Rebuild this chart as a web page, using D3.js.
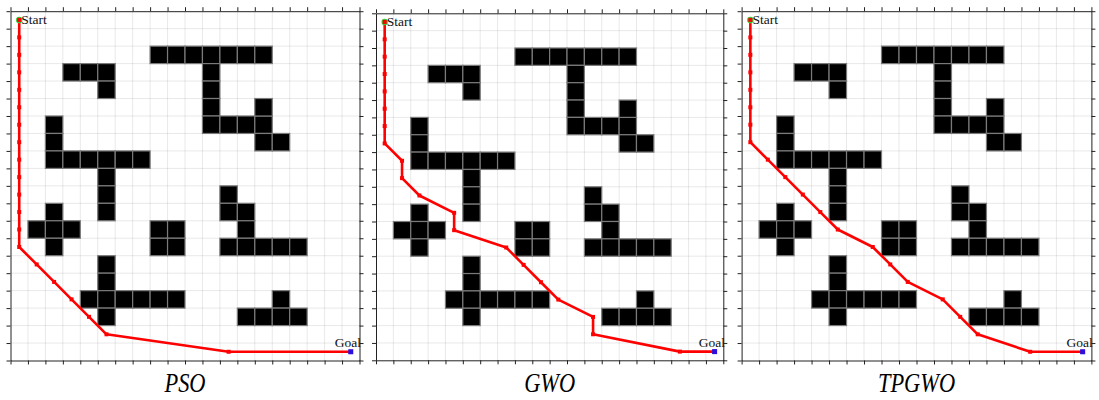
<!DOCTYPE html>
<html>
<head>
<meta charset="utf-8">
<script src="https://cdn.jsdelivr.net/npm/d3@7"></script>
<style>
  html, body { margin: 0; padding: 0; background: #fff; }
  svg { display: block; }
  .tick line { stroke: #222; }
  .domain { stroke: #222; }
  .serif { font-family: 'Liberation Serif', 'Times New Roman', serif; }
</style>
</head>
<body>
<svg id="chart" width="1099" height="400"></svg>
<script>
// Grid map: 20 x 20 cells, column index to the right, row index downward
const gridSize = 20;
const tickValues = d3.range(0, 21);

// Occupied cells [column, row]
const obstacleCells = [
  // top bar with hook
  [8,2],[9,2],[10,2],[11,2],[12,2],[13,2],[14,2],
  [11,3],[11,4],[11,5],[11,6],[12,6],[13,6],[14,6],[14,5],[14,7],[15,7],
  // small upper-left hook
  [3,3],[4,3],[5,3],[5,4],
  // L with stem
  [2,6],[2,7],[2,8],[3,8],[4,8],[5,8],[6,8],[7,8],[5,9],[5,10],[5,11],
  // plus sign
  [2,11],[1,12],[2,12],[3,12],[2,13],
  // square block
  [8,12],[9,12],[8,13],[9,13],
  // right step shape
  [12,10],[12,11],[13,11],[13,12],[12,13],[13,13],[14,13],[15,13],[16,13],
  // lower cross
  [5,14],[5,15],[4,16],[5,16],[6,16],[7,16],[8,16],[9,16],[5,17],
  // lower-right bump
  [15,16],[13,17],[14,17],[15,17],[16,17]
];

const methodNames = ["PSO", "GWO", "TPGWO"];

// Path waypoints (cell-centre coordinates)
const psoX = [0.5,0.5,0.5,0.5,0.5,0.5,0.5,0.5,0.5,0.5,0.5,0.5,0.5,0.5,1.5,2.5,3.5,4.5,5.5,12.5,19.5];
const psoY = [0.5,1.5,2.5,3.5,4.5,5.5,6.5,7.5,8.5,9.5,10.5,11.5,12.5,13.5,14.5,15.5,16.5,17.5,18.5,19.5,19.5];

const gwoX = [0.5,0.5,0.5,0.5,0.5,0.5,0.5,0.5,1.5,1.5,2.5,4.5,4.5,7.5,8.5,9.5,10.5,12.5,12.5,17.5,19.5];
const gwoY = [0.5,1.5,2.5,3.5,4.5,5.5,6.5,7.5,8.5,9.5,10.5,11.5,12.5,13.5,14.5,15.5,16.5,17.5,18.5,19.5,19.5];

const tpgwoX = [0.5,0.5,0.5,0.5,0.5,0.5,0.5,0.5,1.5,2.5,3.5,4.5,5.5,7.5,8.5,9.5,11.5,12.5,13.5,16.5,19.5];
const tpgwoY = [0.5,1.5,2.5,3.5,4.5,5.5,6.5,7.5,8.5,9.5,10.5,11.5,12.5,13.5,14.5,15.5,16.5,17.5,18.5,19.5,19.5];

const pathsX = [psoX, gwoX, tpgwoX];
const pathsY = [psoY, gwoY, tpgwoY];

// Panel frames in page pixels
const panelBoxes = [
  { left: 10.5,  top: 11.2, width: 349,   height: 349.3 },
  { left: 376,   top: 13.3, width: 347.3, height: 347 },
  { left: 741.6, top: 11.2, width: 349.8, height: 349.3 }
];

const svg = d3.select("#chart");

panelBoxes.forEach((box, i) => {
  const x = d3.scaleLinear().domain([0, gridSize]).range([0, box.width]);
  const y = d3.scaleLinear().domain([0, gridSize]).range([0, box.height]);
  const g = svg.append("g").attr("transform", `translate(${box.left},${box.top})`);

  // light grid
  const grid = g.append("g");
  grid.selectAll("line.v").data(d3.range(1, gridSize)).join("line")
    .attr("x1", d => x(d)).attr("x2", d => x(d))
    .attr("y1", 0).attr("y2", box.height)
    .attr("stroke", "#000").attr("stroke-opacity", 0.09).attr("stroke-width", 1);
  grid.selectAll("line.h").data(d3.range(1, gridSize)).join("line")
    .attr("y1", d => y(d)).attr("y2", d => y(d))
    .attr("x1", 0).attr("x2", box.width)
    .attr("stroke", "#000").attr("stroke-opacity", 0.09).attr("stroke-width", 1);

  // obstacles
  g.append("g").selectAll("rect").data(obstacleCells).join("rect")
    .attr("x", d => x(d[0])).attr("y", d => y(d[1]))
    .attr("width", x(1) - x(0)).attr("height", y(1) - y(0))
    .attr("fill", "#000").attr("stroke", "#7a7a7a").attr("stroke-width", 1.2);

  // frame with outward ticks
  const tickFmt = () => "";
  g.append("g").attr("transform", `translate(0,${box.height})`)
    .call(d3.axisBottom(x).tickValues(tickValues).tickSize(4).tickSizeOuter(0).tickFormat(tickFmt));
  g.append("g")
    .call(d3.axisTop(x).tickValues(tickValues).tickSize(4).tickSizeOuter(0).tickFormat(tickFmt));
  g.append("g")
    .call(d3.axisLeft(y).tickValues(tickValues).tickSize(4).tickSizeOuter(0).tickFormat(tickFmt));
  g.append("g").attr("transform", `translate(${box.width},0)`)
    .call(d3.axisRight(y).tickValues(tickValues).tickSize(4).tickSizeOuter(0).tickFormat(tickFmt));

  // path
  const pts = pathsX[i].map((vx, k) => [vx, pathsY[i][k]]);
  g.append("path").datum(pts)
    .attr("d", d3.line().x(d => x(d[0])).y(d => y(d[1])))
    .attr("fill", "none").attr("stroke", "#ff0000").attr("stroke-width", 2.6)
    .attr("stroke-linejoin", "round");

  const start = pts[0], goal = pts[pts.length - 1];
  g.append("circle").attr("cx", x(start[0])).attr("cy", y(start[1])).attr("r", 3.2)
    .attr("fill", "#33cc33");
  g.append("g").selectAll("rect").data(pts).join("rect")
    .attr("x", d => x(d[0]) - 2).attr("y", d => y(d[1]) - 2)
    .attr("width", 4).attr("height", 4).attr("fill", "#ff0000");
  g.append("rect").attr("x", x(goal[0]) - 2.5).attr("y", y(goal[1]) - 2.5)
    .attr("width", 5).attr("height", 5).attr("fill", "#2a10e0");

  // labels
  g.append("text").attr("class", "serif")
    .attr("x", x(start[0] + 0.12)).attr("y", y(start[1]) + 4.5)
    .attr("font-size", 13.5).attr("fill", "#111").text("Start");
  g.append("text").attr("class", "serif")
    .attr("x", x(goal[0] - 0.92)).attr("y", y(goal[1] - 0.25))
    .attr("font-size", 13.5).attr("fill", "#111").text("Goal");

  // method caption
  svg.append("text").attr("class", "serif")
    .attr("transform", `translate(${box.left + box.width / 2},392) scale(0.8,1)`)
    .attr("text-anchor", "middle")
    .attr("font-style", "italic").attr("font-size", 28).attr("fill", "#000")
    .text(methodNames[i]);
});
</script>
</body>
</html>
